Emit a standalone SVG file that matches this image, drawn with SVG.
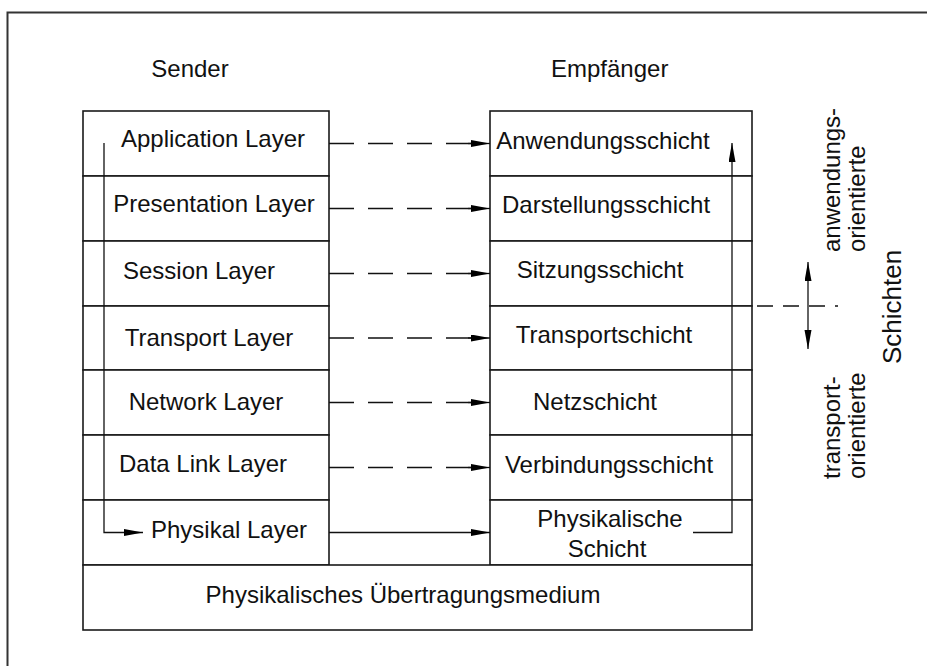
<svg xmlns="http://www.w3.org/2000/svg" width="927" height="666" viewBox="0 0 927 666">
  <defs>
    <style>
      .box { fill: #fff; stroke: #1a1a1a; stroke-width: 1.6; }
      .lbl { font-family: "Liberation Sans", Arial, sans-serif; font-size: 24px; fill: #111; }
      .mid { text-anchor: middle; }
      .big { font-size: 26px; }
      .wire { fill: none; stroke: #111; stroke-width: 1.3; }
      .dash { stroke-dasharray: 25 14; }
      .dash2 { stroke-dasharray: 16 10; }
    </style>
    <marker id="head" markerUnits="userSpaceOnUse" markerWidth="20" markerHeight="8" refX="19" refY="3.5" orient="auto">
      <path d="M0,0 L19,3.5 L0,7 z" fill="#000"/>
    </marker>
    <marker id="headStart" markerUnits="userSpaceOnUse" markerWidth="20" markerHeight="8" refX="19" refY="3.5" orient="auto-start-reverse">
      <path d="M0,0 L19,3.5 L0,7 z" fill="#000"/>
    </marker>
  </defs>

  <rect width="927" height="666" fill="#fff"/>
  <!-- outer frame, open to the right and bottom -->
  <rect x="7.5" y="12.5" width="960" height="700" fill="none" stroke="#333" stroke-width="2"/>

  <text class="lbl mid" x="190" y="77">Sender</text>
  <text class="lbl" x="551" y="77">Empfänger</text>

  <!-- sender stack -->
  <g id="sender">
    <g id="s-application"><rect class="box" x="83" y="111" width="246" height="65"/><text class="lbl mid" x="213" y="147">Application Layer</text></g>
    <g id="s-presentation"><rect class="box" x="83" y="176" width="246" height="65"/><text class="lbl mid" x="214" y="212">Presentation Layer</text></g>
    <g id="s-session"><rect class="box" x="83" y="241" width="246" height="65"/><text class="lbl mid" x="199" y="279">Session Layer</text></g>
    <g id="s-transport"><rect class="box" x="83" y="306" width="246" height="64"/><text class="lbl mid" x="209" y="346">Transport Layer</text></g>
    <g id="s-network"><rect class="box" x="83" y="370" width="246" height="65"/><text class="lbl mid" x="206" y="410">Network Layer</text></g>
    <g id="s-datalink"><rect class="box" x="83" y="435" width="246" height="65"/><text class="lbl mid" x="203" y="472">Data Link Layer</text></g>
    <g id="s-physical"><rect class="box" x="83" y="500" width="246" height="65"/><text class="lbl mid" x="229" y="538">Physikal Layer</text></g>
  </g>

  <!-- receiver stack -->
  <g id="receiver">
    <g id="r-anwendung"><rect class="box" x="490" y="111" width="262" height="65"/><text class="lbl mid" x="603" y="149">Anwendungsschicht</text></g>
    <g id="r-darstellung"><rect class="box" x="490" y="176" width="262" height="65"/><text class="lbl mid" x="606" y="213">Darstellungsschicht</text></g>
    <g id="r-sitzung"><rect class="box" x="490" y="241" width="262" height="65"/><text class="lbl mid" x="600" y="278">Sitzungsschicht</text></g>
    <g id="r-transport"><rect class="box" x="490" y="306" width="262" height="64"/><text class="lbl mid" x="604" y="343">Transportschicht</text></g>
    <g id="r-netz"><rect class="box" x="490" y="370" width="262" height="65"/><text class="lbl mid" x="595" y="410">Netzschicht</text></g>
    <g id="r-verbindung"><rect class="box" x="490" y="435" width="262" height="65"/><text class="lbl mid" x="609" y="473">Verbindungsschicht</text></g>
    <g id="r-physikalisch"><rect class="box" x="490" y="500" width="262" height="65"/><text class="lbl mid" x="610" y="527">Physikalische</text><text class="lbl mid" x="607" y="557">Schicht</text></g>
  </g>

  <g id="medium">
    <rect class="box" x="83" y="565" width="669" height="65"/>
    <text class="lbl mid" x="403" y="603">Physikalisches Übertragungsmedium</text>
  </g>

  <!-- side labels -->
  <g id="side-labels" class="lbl">
    <text transform="rotate(-90 840 252)" x="840" y="252">anwendungs-</text>
    <text transform="rotate(-90 865 252)" x="865" y="252">orientierte</text>
    <text class="mid big" transform="rotate(-90 901 307)" x="901" y="307">Schichten</text>
    <text transform="rotate(-90 840 479)" x="840" y="479">transport-</text>
    <text transform="rotate(-90 865 479)" x="865" y="479">orientierte</text>
  </g>

  <g id="connectors">
    <path class="wire dash" d="M329,143.5 H471" /><path class="wire" d="M468,143.5 H490" marker-end="url(#head)"/>
    <path class="wire dash" d="M329,208.5 H471" /><path class="wire" d="M468,208.5 H490" marker-end="url(#head)"/>
    <path class="wire dash" d="M329,273.5 H471" /><path class="wire" d="M468,273.5 H490" marker-end="url(#head)"/>
    <path class="wire dash" d="M329,338 H471" /><path class="wire" d="M468,338 H490" marker-end="url(#head)"/>
    <path class="wire dash" d="M329,402.5 H471" /><path class="wire" d="M468,402.5 H490" marker-end="url(#head)"/>
    <path class="wire dash" d="M329,467.5 H471" /><path class="wire" d="M468,467.5 H490" marker-end="url(#head)"/>
    <path class="wire" d="M329,532.5 H490" marker-end="url(#head)"/>
    <!-- path down the sender stack -->
    <path class="wire" d="M104,143 V532.5 H143" marker-end="url(#head)"/>
    <!-- path up the receiver stack -->
    <path class="wire" d="M693,532.5 H732 V143" marker-end="url(#head)"/>
    <!-- boundary between the two layer groups -->
    <path class="wire dash2" d="M757,306 H838"/>
    <path class="wire" d="M808,262 V349" marker-start="url(#headStart)" marker-end="url(#head)"/>
  </g>
</svg>
